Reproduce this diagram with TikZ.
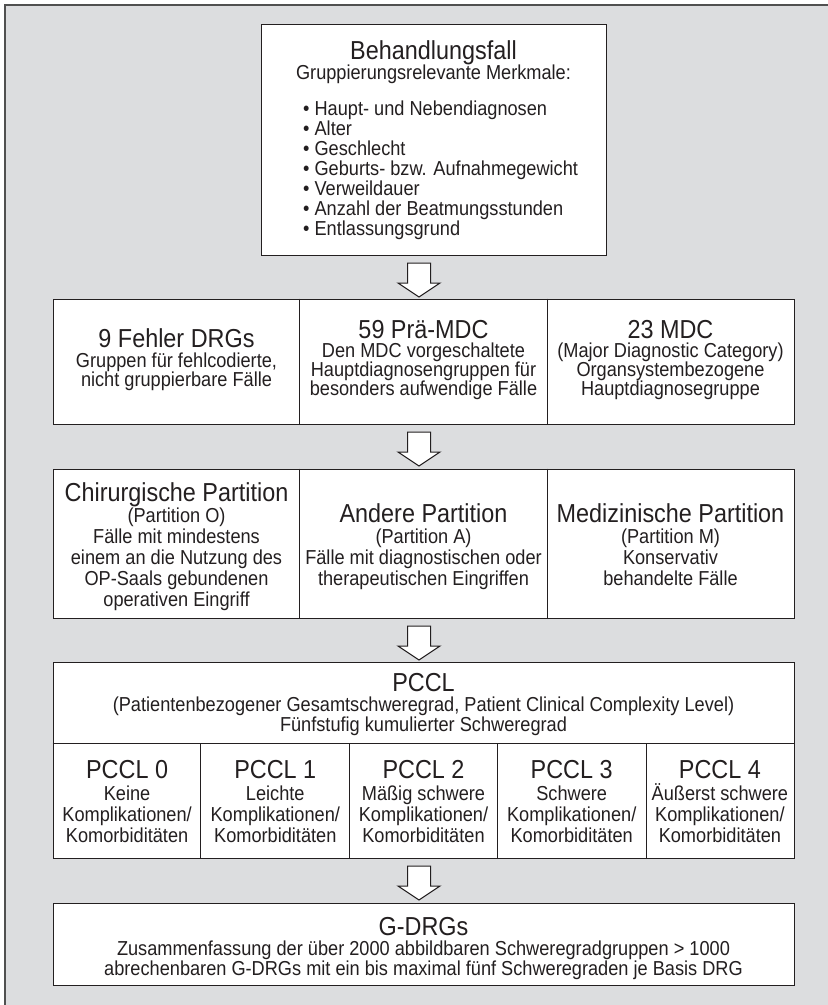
\documentclass[tikz,border=0pt]{standalone}
\usepackage{fontspec}
\setmainfont{Liberation Sans}[FakeStretch=0.9]
\usetikzlibrary{calc,shadows}
\definecolor{bgc}{HTML}{DCDDDF}
\definecolor{framec}{HTML}{505050}
\definecolor{ink}{HTML}{231F20}
\tikzset{
  box/.style={draw=ink, line width=1pt, fill=white, inner sep=0pt,
    drop shadow={shadow xshift=1.2pt, shadow yshift=-1.2pt, fill=ink, opacity=1}},
  divider/.style={draw=ink, line width=1pt},
  ttl/.style={font=\fontsize{26}{28}\selectfont, anchor=base, inner sep=0pt, text=ink},
  txt/.style={font=\fontsize{20.2}{22}\selectfont, anchor=base, inner sep=0pt, text=ink},
  outerframe/.style={draw=framec, line width=2pt, fill=bgc},
  blockarr/.style={draw=ink, fill=white, line width=1pt, line join=miter,
    to path={let \p1=(\tikztostart), \p2=(\tikztotarget) in
      (\x1-11.5pt,\y1) -- (\x1+11.5pt,\y1) -- (\x1+11.5pt,\y2+14pt) -- (\x1+21pt,\y2+14pt)
      -- (\x2,\y2) -- (\x1-21pt,\y2+14pt) -- (\x1-11.5pt,\y2+14pt) -- cycle}},
}
\begin{document}
\begin{tikzpicture}[x=1pt,y=1pt]
\useasboundingbox (0,0) rectangle (828,-1005);
\begin{scope}
  \clip (0,0) rectangle (828,-1005);
  \path[outerframe] (5,-5) rectangle (850,-1030);
\end{scope}

% ---------- top box
\node[box, minimum width=345pt, minimum height=231pt] (fall) at (433.5,-139.5) {};
\node[ttl] (fallT) at (433.5,-59.5) {Behandlungsfall};
\node[txt] (fallS) at (433.5,-79) {Gruppierungsrelevante Merkmale:};
\foreach \t [count=\i] in {Haupt- und Nebendiagnosen, Alter, Geschlecht, Geburts- bzw. Aufnahmegewicht, Verweildauer, Anzahl der Beatmungsstunden, Entlassungsgrund}
  \node[txt, anchor=base west] (fallB\i) at (303,{-95-20*\i}) {\textbullet\ \t};

% ---------- arrows
\coordinate (a1s) at (419,-263); \coordinate (a1e) at (419,-297);
\coordinate (a2s) at (419,-432); \coordinate (a2e) at (419,-466);
\coordinate (a3s) at (419,-626); \coordinate (a3e) at (419,-660);
\coordinate (a4s) at (419,-866); \coordinate (a4e) at (419,-900);
\draw[blockarr] (a1s) to (a1e);
\draw[blockarr] (a2s) to (a2e);
\draw[blockarr] (a3s) to (a3e);
\draw[blockarr] (a4s) to (a4e);

% ---------- row 2
\node[box, minimum width=741pt, minimum height=125pt] (row2) at (423.5,-361.5) {};
\draw[divider] ($(row2.north west)!1/3!(row2.north east)$) -- ($(row2.south west)!1/3!(row2.south east)$);
\draw[divider] ($(row2.north west)!2/3!(row2.north east)$) -- ($(row2.south west)!2/3!(row2.south east)$);
\node[ttl] (fT) at (176.5,-347.5) {9 Fehler DRGs};
\node[txt] (f1) at (176.5,-367) {Gruppen für fehlcodierte,};
\node[txt] (f2) at (176.5,-386) {nicht gruppierbare Fälle};
\node[ttl] (pT) at (423.5,-338) {59 Prä-MDC};
\node[txt] (p1) at (423.5,-357.5) {Den MDC vorgeschaltete};
\node[txt] (p2) at (423.5,-376.5) {Hauptdiagnosengruppen für};
\node[txt] (p3) at (423.5,-395.5) {besonders aufwendige Fälle};
\node[ttl] (mT) at (670.5,-338) {23 MDC};
\node[txt] (m1) at (670.5,-357.5) {(Major Diagnostic Category)};
\node[txt] (m2) at (670.5,-376.5) {Organsystembezogene};
\node[txt] (m3) at (670.5,-395.5) {Hauptdiagnosegruppe};

% ---------- row 3
\node[box, minimum width=741pt, minimum height=149pt] (row3) at (423.5,-543.5) {};
\draw[divider] ($(row3.north west)!1/3!(row3.north east)$) -- ($(row3.south west)!1/3!(row3.south east)$);
\draw[divider] ($(row3.north west)!2/3!(row3.north east)$) -- ($(row3.south west)!2/3!(row3.south east)$);
\node[ttl] (cT) at (176.5,-501) {Chirurgische Partition};
\node[txt] (c1) at (176.5,-522) {(Partition O)};
\node[txt] (c2) at (176.5,-543) {Fälle mit mindestens};
\node[txt] (c3) at (176.5,-564) {einem an die Nutzung des};
\node[txt] (c4) at (176.5,-585) {OP-Saals gebundenen};
\node[txt] (c5) at (176.5,-606) {operativen Eingriff};
\node[ttl] (aT) at (423.5,-522) {Andere Partition};
\node[txt] (a1) at (423.5,-543) {(Partition A)};
\node[txt] (a2) at (423.5,-564) {Fälle mit diagnostischen oder};
\node[txt] (a3) at (423.5,-585) {therapeutischen Eingriffen};
\node[ttl] (dT) at (670.5,-522) {Medizinische Partition};
\node[txt] (d1) at (670.5,-543) {(Partition M)};
\node[txt] (d2) at (670.5,-564) {Konservativ};
\node[txt] (d3) at (670.5,-585) {behandelte Fälle};

% ---------- PCCL
\node[box, minimum width=741pt, minimum height=196pt] (pccl) at (423.5,-760) {};
\coordinate (pdl) at ($(pccl.north west)+(0,-82)$);
\coordinate (pdr) at ($(pccl.north east)+(0,-82)$);
\draw[divider] (pdl) -- (pdr);
\foreach \k in {1,2,3,4}
  \draw[divider] ($(pdl)!\k/5!(pdr)$) -- ($(pccl.south west)!\k/5!(pccl.south east)$);
\node[ttl] (pcT) at (423.5,-691) {PCCL};
\node[txt] (pc1) at (423.5,-711) {(Patientenbezogener Gesamtschweregrad, Patient Clinical Complexity Level)};
\node[txt] (pc2) at (423.5,-731) {Fünfstufig kumulierter Schweregrad};

\node[ttl] (k0T) at (127.1,-778) {PCCL 0};
\node[txt] (k0a) at (127.1,-800) {Keine};
\node[txt] (k0b) at (127.1,-821) {Komplikationen/};
\node[txt] (k0c) at (127.1,-842) {Komorbiditäten};

\node[ttl] (k1T) at (275.3,-778) {PCCL 1};
\node[txt] (k1a) at (275.3,-800) {Leichte};
\node[txt] (k1b) at (275.3,-821) {Komplikationen/};
\node[txt] (k1c) at (275.3,-842) {Komorbiditäten};

\node[ttl] (k2T) at (423.5,-778) {PCCL 2};
\node[txt] (k2a) at (423.5,-800) {Mäßig schwere};
\node[txt] (k2b) at (423.5,-821) {Komplikationen/};
\node[txt] (k2c) at (423.5,-842) {Komorbiditäten};

\node[ttl] (k3T) at (571.7,-778) {PCCL 3};
\node[txt] (k3a) at (571.7,-800) {Schwere};
\node[txt] (k3b) at (571.7,-821) {Komplikationen/};
\node[txt] (k3c) at (571.7,-842) {Komorbiditäten};

\node[ttl] (k4T) at (719.9,-778) {PCCL 4};
\node[txt] (k4a) at (719.9,-800) {Äußerst schwere};
\node[txt] (k4b) at (719.9,-821) {Komplikationen/};
\node[txt] (k4c) at (719.9,-842) {Komorbiditäten};

% ---------- G-DRGs
\node[box, minimum width=741pt, minimum height=82pt] (gdrg) at (423.5,-944) {};
\node[ttl] (gT) at (423.5,-935) {G-DRGs};
\node[txt] (g1) at (423.5,-955) {Zusammenfassung der über 2000 abbildbaren Schweregradgruppen > 1000};
\node[txt] (g2) at (423.5,-975) {abrechenbaren G-DRGs mit ein bis maximal fünf Schweregraden je Basis DRG};
\end{tikzpicture}
\end{document}
